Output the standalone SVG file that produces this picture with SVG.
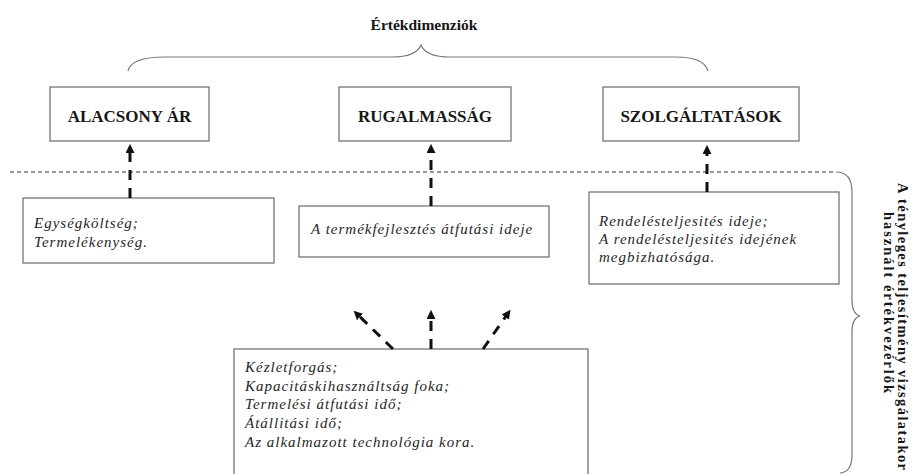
<svg xmlns="http://www.w3.org/2000/svg" width="912" height="474" viewBox="0 0 912 474">
<style>
.box{fill:#fff;stroke:#6a6a6a;stroke-width:1.2}
.ttl{font-family:"Liberation Serif",serif;font-weight:bold;font-size:17px;fill:#161616;text-anchor:middle}
.it{font-family:"Liberation Serif",serif;font-style:italic;font-size:15px;fill:#262626;letter-spacing:1px}
.vt{font-family:"Liberation Serif",serif;font-weight:bold;font-size:14.5px;fill:#161616}
.brace{fill:none;stroke:#7a7a7a;stroke-width:1.2}
.con{fill:none;stroke:#111;stroke-width:3;stroke-dasharray:10 8}
.sep{fill:none;stroke:#333;stroke-width:1.1;stroke-dasharray:4 3}
</style>
<defs>
<marker id="ah" viewBox="0 0 10 10" refX="1" refY="5" markerWidth="9" markerHeight="9" markerUnits="userSpaceOnUse" orient="auto">
<path d="M0,0 L10,5 L0,10 z" fill="#111"/>
</marker>
</defs>

<g id="title">
<text x="424" y="30" style="font-family:'Liberation Serif',serif;font-weight:bold;font-size:15.5px;fill:#161616;text-anchor:middle">Értékdimenziók</text>
<path class="brace" d="M128,71 Q131,57 165,57 L392,57 Q416,57 421,45 Q426,57 450,57 L676,57 Q704,57 708,71"/>
</g>

<g id="separator">
<path class="sep" d="M10,172 L836,172"/>
<path class="brace" d="M836,172 Q852,172 852,192 L852,300 Q852,314 860,316 Q852,318 852,332 L852,455 Q852,472 840,473"/>
</g>

<g id="side-label">
<text class="vt" transform="translate(898,183) rotate(90)" textLength="287" lengthAdjust="spacing">A tényleges teljesítmény vizsgálatakor</text>
<text class="vt" transform="translate(884,212) rotate(90)" textLength="181" lengthAdjust="spacing">használt értékvezérlők</text>
</g>

<g id="n-alacsony">
<rect class="box" x="50" y="87" width="159" height="54"/>
<text class="ttl" x="129.5" y="122">ALACSONY ÁR</text>
</g>
<g id="n-rugalmassag">
<rect class="box" x="339" y="87" width="172" height="54"/>
<text class="ttl" x="425" y="122">RUGALMASSÁG</text>
</g>
<g id="n-szolgaltatasok">
<rect class="box" x="603" y="87" width="196" height="54"/>
<text class="ttl" x="701" y="122">SZOLGÁLTATÁSOK</text>
</g>

<g id="n-egyseg">
<rect class="box" x="23" y="198" width="251" height="65"/>
<text class="it" x="34" y="228">Egységköltség;</text>
<text class="it" x="34" y="247">Termelékenység.</text>
</g>
<g id="n-termekfejlesztes">
<rect class="box" x="299" y="206" width="250" height="51"/>
<text class="it" x="311" y="234">A termékfejlesztés átfutási ideje</text>
</g>
<g id="n-rendeles">
<rect class="box" x="589" y="192" width="250" height="92"/>
<text class="it" x="599" y="226">Rendelésteljesités ideje;</text>
<text class="it" x="599" y="244">A rendelésteljesités idejének</text>
<text class="it" x="599" y="262">megbizhatósága.</text>
</g>
<g id="n-keszlet">
<rect class="box" x="234" y="349" width="354" height="140"/>
<text class="it" x="245" y="372">Kézletforgás;</text>
<text class="it" x="245" y="391">Kapacitáskihasználtság foka;</text>
<text class="it" x="245" y="409">Termelési átfutási idő;</text>
<text class="it" x="245" y="428">Átállitási idő;</text>
<text class="it" x="245" y="447">Az alkalmazott technológia kora.</text>
</g>

<g id="connectors">
<path class="con" d="M130,198 L130,152" marker-end="url(#ah)"/>
<path class="con" d="M431,206 L431,152" marker-end="url(#ah)"/>
<path class="con" d="M707,192 L707,153" marker-end="url(#ah)"/>
<path class="con" d="M393,349 L359.4,316.3" marker-end="url(#ah)"/>
<path class="con" d="M431,349 L431,318" marker-end="url(#ah)"/>
<path class="con" d="M483,349 L505.8,316.4" marker-end="url(#ah)"/>
</g>
</svg>
